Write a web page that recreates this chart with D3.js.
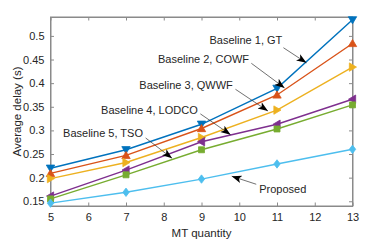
<!DOCTYPE html>
<html>
<head>
<meta charset="utf-8">
<script src="https://cdn.jsdelivr.net/npm/d3@7"></script>
<style>
  body { margin: 0; background: #fff; }
  text { font-family: "Liberation Sans", Arial, Helvetica, sans-serif; fill: #262626; }
</style>
</head>
<body>
<div id="chart"></div>
<script>
// data
var mtQuantity = [5, 7, 9, 11, 13];
var gt       = [0.220, 0.259, 0.313, 0.389, 0.534];
var cowf     = [0.209, 0.247, 0.304, 0.375, 0.484];
var qwwf     = [0.198, 0.232, 0.285, 0.343, 0.434];
var lodco    = [0.161, 0.216, 0.276, 0.313, 0.366];
var tso      = [0.155, 0.206, 0.259, 0.303, 0.354];
var proposed = [0.146, 0.169, 0.197, 0.229, 0.260];

var xTicks = [5, 6, 7, 8, 9, 10, 11, 12, 13];
var yTicks = [0.15, 0.2, 0.25, 0.3, 0.35, 0.4, 0.45, 0.5];

var seriesNames = ['Baseline 1, GT', 'Baseline 2, COWF', 'Baseline 3, QWWF',
                   'Baseline 4, LODCO', 'Baseline 5, TSO', 'Proposed'];

// annotation text anchor + arrow (data units)
var notes = [
  { label: 'Baseline 1, GT',    tx: 11.14, ty: 0.491, anchor: 'end',   x1: 11.17, y1: 0.475, x2: 11.78, y2: 0.443 },
  { label: 'Baseline 2, COWF',  tx: 10.26, ty: 0.450, anchor: 'end',   x1: 10.32, y1: 0.442, x2: 11.20, y2: 0.390 },
  { label: 'Baseline 3, QWWF',  tx: 9.83,  ty: 0.396, anchor: 'end',   x1: 9.90,  y1: 0.387, x2: 10.76, y2: 0.341 },
  { label: 'Baseline 4, LODCO', tx: 8.90,  ty: 0.343, anchor: 'end',   x1: 8.97,  y1: 0.335, x2: 9.77,  y2: 0.291 },
  { label: 'Baseline 5, TSO',   tx: 7.45,  ty: 0.294, anchor: 'end',   x1: 7.52,  y1: 0.284, x2: 8.22,  y2: 0.241 },
  { label: 'Proposed',          tx: 10.53, ty: 0.176, anchor: 'start', x1: 10.45, y1: 0.186, x2: 9.80,  y2: 0.203 }
];

var width = 390;
var height = 241;
var margin = { left: 50.5, right: 37.5, top: 17, bottom: 35 };

var svg = d3.select('#chart')
  .append('svg')
  .attr('width', width)
  .attr('height', height);

var x = d3.scaleLinear().domain([5, 13]).range([margin.left, width - margin.right]);
var y = d3.scaleLinear().domain([0.14, 0.54]).range([height - margin.bottom, margin.top]);

var axisColor = '#8a8a8a';
var tickLen = 3.5;

// box
svg.append('rect')
  .attr('x', x(5)).attr('y', y(0.54))
  .attr('width', x(13) - x(5)).attr('height', y(0.14) - y(0.54))
  .attr('fill', 'none').attr('stroke', axisColor).attr('stroke-width', 1);

// x axis bottom + top ticks (inward)
var xAxis = svg.append('g')
  .attr('transform', 'translate(0,' + y(0.14) + ')')
  .call(d3.axisBottom(x).tickValues(xTicks).tickSizeInner(-tickLen).tickSizeOuter(0).tickPadding(7).tickFormat(d3.format('d')));
var xAxisTop = svg.append('g')
  .attr('transform', 'translate(0,' + y(0.54) + ')')
  .call(d3.axisTop(x).tickValues(xTicks).tickSizeInner(-tickLen).tickSizeOuter(0).tickFormat(''));

var yAxis = svg.append('g')
  .attr('transform', 'translate(' + x(5) + ',0)')
  .call(d3.axisLeft(y).tickValues(yTicks).tickSizeInner(-tickLen).tickSizeOuter(0).tickPadding(6).tickFormat(function(d) { return d3.format('')(+d.toFixed(2)); }));
var yAxisRight = svg.append('g')
  .attr('transform', 'translate(' + x(13) + ',0)')
  .call(d3.axisRight(y).tickValues(yTicks).tickSizeInner(-tickLen).tickSizeOuter(0).tickFormat(''));

[xAxis, xAxisTop, yAxis, yAxisRight].forEach(function(g) {
  g.select('.domain').attr('stroke', axisColor);
  g.selectAll('.tick line').attr('stroke', axisColor);
  g.selectAll('.tick text').attr('fill', '#262626').style('font-size', '11px')
    .style('font-family', '"Liberation Sans", Arial, sans-serif');
});

// axis titles
svg.append('text')
  .attr('x', (x(5) + x(13)) / 2)
  .attr('y', 237)
  .attr('text-anchor', 'middle')
  .style('font-size', '11.5px')
  .text('MT quantity');

svg.append('text')
  .attr('transform', 'translate(21,' + ((y(0.14) + y(0.54)) / 2) + ') rotate(-90)')
  .attr('text-anchor', 'middle')
  .style('font-size', '11.5px')
  .text('Average delay (s)');

// series
var colors = ['#0072BD', '#D95319', '#EDB120', '#7E2F8E', '#77AC30', '#4DBEEE'];
var values = [gt, cowf, qwwf, lodco, tso, proposed];
var markers = ['down', 'up', 'right', 'left', 'square', 'diamond'];

var line = d3.line()
  .x(function(d) { return x(d[0]); })
  .y(function(d) { return y(d[1]); });

function markerPath(kind) {
  var r = 4.2;
  if (kind === 'down') return 'M' + (-r) + ',' + (-r * 0.75) + 'L' + r + ',' + (-r * 0.75) + 'L0,' + (r * 0.95) + 'Z';
  if (kind === 'up') return 'M' + (-r) + ',' + (r * 0.75) + 'L' + r + ',' + (r * 0.75) + 'L0,' + (-r * 0.95) + 'Z';
  if (kind === 'right') return 'M' + (-r * 0.75) + ',' + (-r) + 'L' + (-r * 0.75) + ',' + r + 'L' + (r * 0.95) + ',0Z';
  if (kind === 'left') return 'M' + (r * 0.75) + ',' + (-r) + 'L' + (r * 0.75) + ',' + r + 'L' + (-r * 0.95) + ',0Z';
  if (kind === 'square') return 'M-3,-3L3,-3L3,3L-3,3Z';
  return 'M0,-4.2L3.2,0L0,4.2L-3.2,0Z';
}

values.forEach(function(vals, i) {
  var pts = mtQuantity.map(function(m, j) { return [m, vals[j]]; });
  var g = svg.append('g').attr('class', 'series');
  g.append('path')
    .datum(pts)
    .attr('d', line)
    .attr('fill', 'none')
    .attr('stroke', colors[i])
    .attr('stroke-width', 1.4);
  g.selectAll('path.mark')
    .data(pts)
    .enter()
    .append('path')
    .attr('class', 'mark')
    .attr('transform', function(d) { return 'translate(' + x(d[0]) + ',' + y(d[1]) + ')'; })
    .attr('d', markerPath(markers[i]))
    .attr('fill', colors[i])
    .attr('stroke', colors[i])
    .attr('stroke-width', 0.8);
});

// annotations
svg.append('defs').append('marker')
  .attr('id', 'head')
  .attr('viewBox', '0 0 10 10')
  .attr('refX', 10).attr('refY', 5)
  .attr('markerWidth', 10).attr('markerHeight', 10)
  .attr('markerUnits', 'userSpaceOnUse')
  .attr('orient', 'auto')
  .append('path')
  .attr('d', 'M0,1.2L10,5L0,8.8L2.5,5Z')
  .attr('fill', '#000');

var note = svg.selectAll('.note')
  .data(notes)
  .enter()
  .append('g')
  .attr('class', 'note');

note.append('line')
  .attr('x1', function(d) { return x(d.x1); })
  .attr('y1', function(d) { return y(d.y1); })
  .attr('x2', function(d) { return x(d.x2); })
  .attr('y2', function(d) { return y(d.y2); })
  .attr('stroke', '#333')
  .attr('stroke-width', 0.7)
  .attr('marker-end', 'url(#head)');

note.append('text')
  .attr('x', function(d) { return x(d.tx); })
  .attr('y', function(d) { return y(d.ty); })
  .attr('dy', '0.35em')
  .attr('text-anchor', function(d) { return d.anchor; })
  .style('font-size', '11px')
  .text(function(d) { return d.label; });
</script>
</body>
</html>
